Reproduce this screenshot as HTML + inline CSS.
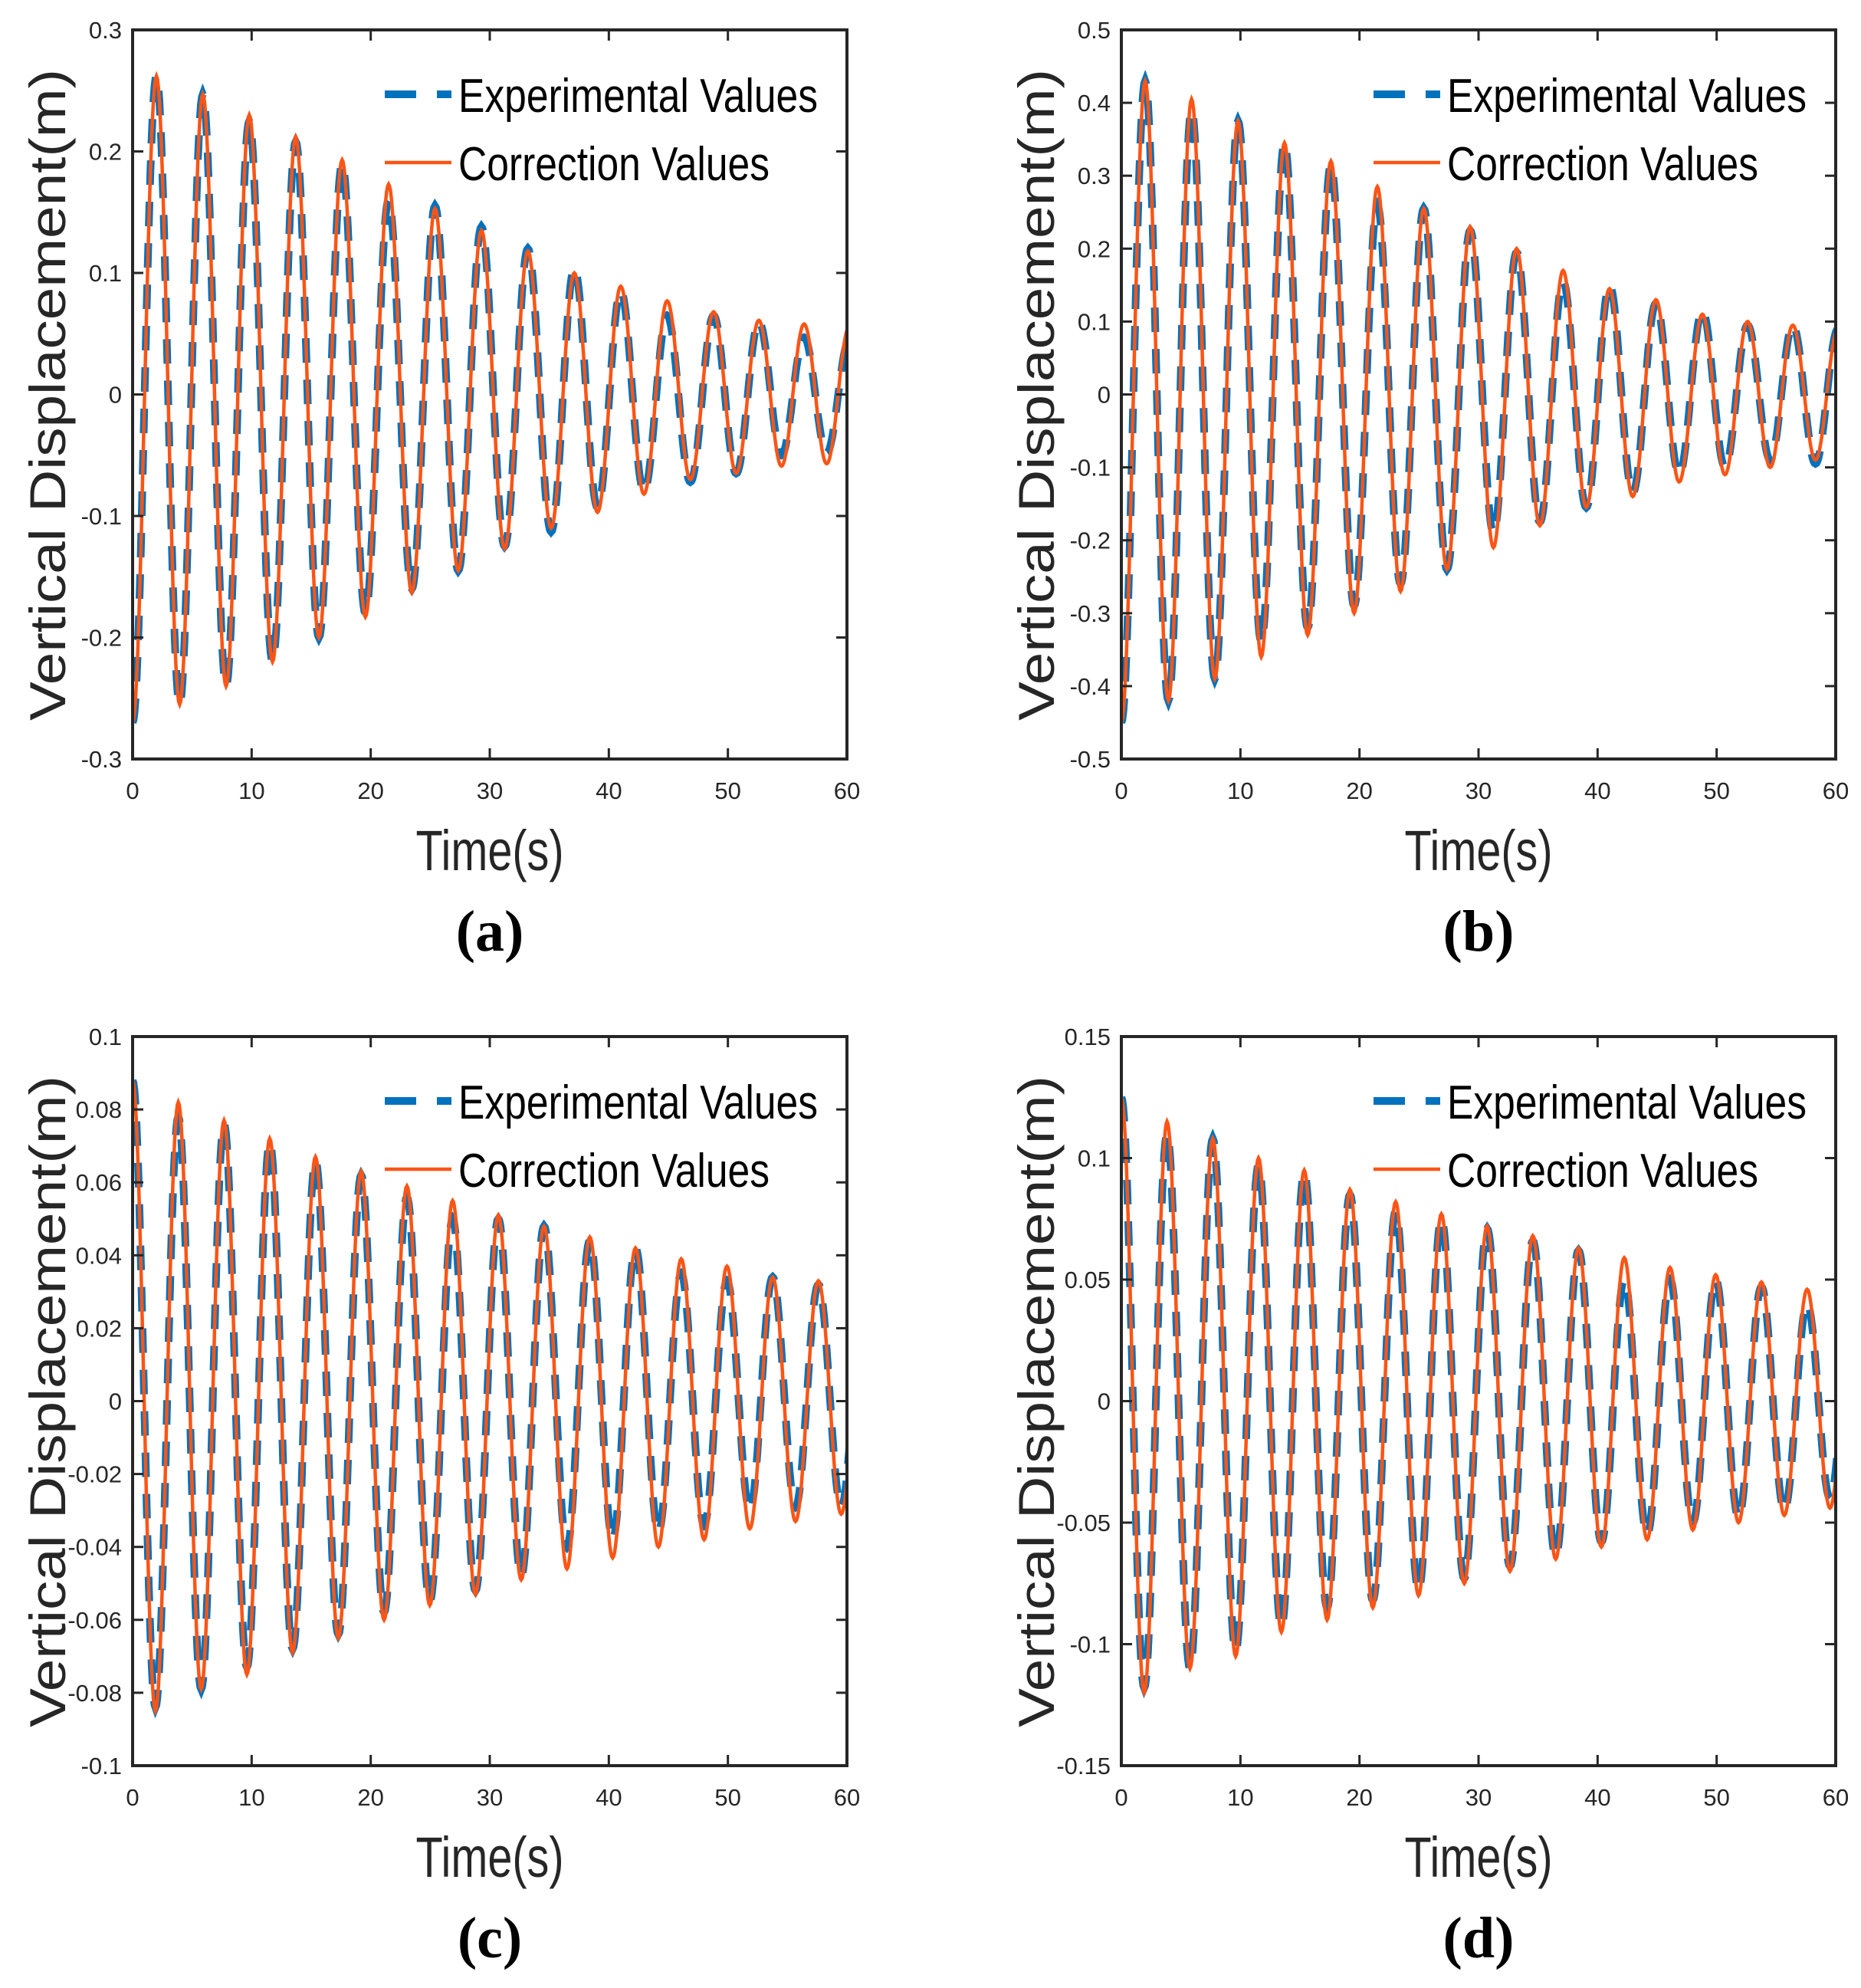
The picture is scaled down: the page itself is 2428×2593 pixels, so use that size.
<!DOCTYPE html>
<html><head><meta charset="utf-8"><style>
html,body{margin:0;padding:0;background:#fff;}
svg{display:block;}
text{font-family:"Liberation Sans",sans-serif;fill:#262626;}
</style></head><body>
<svg id="fig" width="2428" height="2593" viewBox="0 0 2428 2593" xmlns="http://www.w3.org/2000/svg"></svg>
<script>
// ---------- data ----------
const xTicks = [0,10,20,30,40,50,60];
const yTicksA = [-0.3,-0.2,-0.1,0,0.1,0.2,0.3];
const yTicksB = [-0.5,-0.4,-0.3,-0.2,-0.1,0,0.1,0.2,0.3,0.4,0.5];
const yTicksC = [-0.1,-0.08,-0.06,-0.04,-0.02,0,0.02,0.04,0.06,0.08,0.1];
const yTicksD = [-0.15,-0.1,-0.05,0,0.05,0.1,0.15];
const yLabelsA = ["-0.3","-0.2","-0.1","0","0.1","0.2","0.3"];
const yLabelsB = ["-0.5","-0.4","-0.3","-0.2","-0.1","0","0.1","0.2","0.3","0.4","0.5"];
const yLabelsC = ["-0.1","-0.08","-0.06","-0.04","-0.02","0","0.02","0.04","0.06","0.08","0.1"];
const yLabelsD = ["-0.15","-0.1","-0.05","0","0.05","0.1","0.15"];

const timesAB = [0,2.0,3.95,5.9,7.85,9.8,11.75,13.7,15.65,17.6,19.55,21.5,23.45,25.4,27.35,29.3,31.25,33.2,35.15,37.1,39.05,41.0,42.95,44.9,46.85,48.8,50.7,52.6,54.5,56.4,58.3,60.2];
const corrA = [-0.27,0.262,-0.255,0.247,-0.24,0.23,-0.22,0.212,-0.2,0.193,-0.183,0.173,-0.163,0.153,-0.145,0.135,-0.127,0.118,-0.11,0.1,-0.097,0.089,-0.082,0.077,-0.07,0.068,-0.065,0.061,-0.059,0.058,-0.057,0.056];
const expA  = [-0.27,0.262,-0.255,0.247,-0.24,0.225,-0.22,0.208,-0.2,0.19,-0.18,0.16,-0.16,0.155,-0.145,0.138,-0.125,0.12,-0.113,0.104,-0.093,0.085,-0.08,0.065,-0.072,0.065,-0.065,0.06,-0.05,0.047,-0.048,0.045];
const corrB = [-0.45,0.43,-0.42,0.405,-0.39,0.375,-0.36,0.345,-0.33,0.32,-0.3,0.285,-0.27,0.255,-0.24,0.23,-0.21,0.2,-0.18,0.17,-0.155,0.145,-0.14,0.13,-0.12,0.11,-0.11,0.1,-0.1,0.095,-0.09,0.09];
const expB  = [-0.45,0.43,-0.42,0.39,-0.39,0.375,-0.34,0.345,-0.32,0.315,-0.29,0.26,-0.26,0.255,-0.24,0.225,-0.19,0.195,-0.175,0.155,-0.155,0.15,-0.135,0.125,-0.11,0.115,-0.1,0.095,-0.09,0.095,-0.095,0.09];

const timesCD = [0,1.92,3.84,5.76,7.68,9.6,11.52,13.44,15.36,17.28,19.2,21.12,23.04,24.96,26.88,28.8,30.72,32.64,34.56,36.48,38.4,40.32,42.24,44.16,46.08,48.0,49.92,51.84,53.76,55.68,57.6,59.52,61.44];
const corrC = [0.088,-0.085,0.082,-0.079,0.077,-0.075,0.072,-0.069,0.067,-0.065,0.063,-0.06,0.059,-0.056,0.055,-0.053,0.051,-0.049,0.048,-0.046,0.045,-0.043,0.042,-0.04,0.039,-0.038,0.037,-0.035,0.034,-0.033,0.033,-0.031,0.031];
const expC  = [0.088,-0.084,0.078,-0.079,0.076,-0.073,0.071,-0.068,0.066,-0.064,0.062,-0.058,0.056,-0.055,0.05,-0.052,0.05,-0.048,0.048,-0.04,0.044,-0.038,0.042,-0.036,0.035,-0.034,0.033,-0.03,0.034,-0.029,0.032,-0.029,0.03];
const corrD = [0.125,-0.12,0.115,-0.11,0.108,-0.105,0.1,-0.095,0.095,-0.09,0.087,-0.085,0.082,-0.08,0.077,-0.075,0.072,-0.07,0.068,-0.065,0.063,-0.06,0.059,-0.057,0.055,-0.053,0.052,-0.05,0.049,-0.047,0.046,-0.044,0.043];
const expD  = [0.125,-0.118,0.11,-0.11,0.108,-0.103,0.097,-0.093,0.094,-0.085,0.085,-0.082,0.078,-0.078,0.075,-0.073,0.071,-0.068,0.066,-0.064,0.062,-0.058,0.05,-0.055,0.05,-0.05,0.05,-0.048,0.047,-0.045,0.04,-0.04,0.04];

// ---------- drawing ----------
const NS = "http://www.w3.org/2000/svg";
const svg = document.getElementById("fig");
function mk(tag, attrs, parent){
  const e = document.createElementNS(NS, tag);
  for (const k in attrs) e.setAttribute(k, attrs[k]);
  (parent||svg).appendChild(e);
  return e;
}

function panel(id, L, T, yTicks, yLabels, times, corr, exp, letter){
  const W = 932, H = 951, R = L+W, B = T+H;
  const yMin = yTicks[0], yMax = yTicks[yTicks.length-1];
  const xS = t => L + (t/60)*W;
  const yS = v => B - (v - yMin)/(yMax - yMin)*H;

  const g = mk("g", {});
  
  

  const clip = mk("clipPath", {id:"clip"+id}, g);
  mk("rect", {x:L, y:T, width:W, height:H}, clip);

  function pathFor(vals){
    let d = "";
    for (let i=0;i<times.length-1;i++){
      const t0=times[i], t1=times[i+1], v0=vals[i], v1=vals[i+1];
      for (let s=0;s<=24;s++){
        if (i>0 && s===0) continue;
        const f=s/24;
        const t=t0+(t1-t0)*f;
        const v=(v0+v1)/2+(v0-v1)/2*Math.cos(Math.PI*f);
        d += (d?"L":"M") + xS(t).toFixed(1) + "," + yS(v).toFixed(1);
      }
    }
    return d;
  }
  const pe = mk("path", {d:pathFor(exp), fill:"none", stroke:"#0072BD", "stroke-width":10, "stroke-dasharray":"32,22", "clip-path":"url(#clip"+id+")"}, g);
  
  
  const pc = mk("path", {d:pathFor(corr), fill:"none", stroke:"#FA5516", "stroke-width":4.5, "clip-path":"url(#clip"+id+")"}, g);
  
  

  const box = mk("rect", {x:L, y:T, width:W, height:H, fill:"none", stroke:"#262626", "stroke-width":4}, g);
  
  

  xTicks.forEach(t=>{
    const x = xS(t);
    mk("line", {x1:x, y1:B, x2:x, y2:B-14, stroke:"#262626","stroke-width":3}, g);
    mk("line", {x1:x, y1:T, x2:x, y2:T+14, stroke:"#262626","stroke-width":3}, g);
    const tx = mk("text", {x:x, y:B+52, "font-size":31, "text-anchor":"middle"}, g);
    tx.textContent = String(t);
    
    
  });
  yTicks.forEach((v,i)=>{
    const y = yS(v);
    mk("line", {x1:L, y1:y, x2:L+14, y2:y, stroke:"#262626","stroke-width":3}, g);
    mk("line", {x1:R, y1:y, x2:R-14, y2:y, stroke:"#262626","stroke-width":3}, g);
    const ty = mk("text", {x:L-14, y:y+11, "font-size":31, "text-anchor":"end"}, g);
    ty.textContent = yLabels[i];
    
    
  });

  const yt = mk("text", {x:0, y:0, "font-size":66, "text-anchor":"middle", textLength:850, lengthAdjust:"spacingAndGlyphs",
    transform:"translate("+(L-88)+","+(T+476)+") rotate(-90)"}, g);
  yt.textContent = "Vertical Displacement(m)";
  
  

  const xt = mk("text", {x:L+W/2, y:T+1096, "font-size":74, "text-anchor":"middle", textLength:193, lengthAdjust:"spacingAndGlyphs"}, g);
  xt.textContent = "Time(s)";
  
  

  const lt = mk("text", {x:L+W/2, y:T+1201, "font-size":76, "text-anchor":"middle", style:"font-family:'Liberation Serif',serif;font-weight:bold;fill:#000"}, g);
  lt.textContent = "(" + letter + ")";
  
  

  const lg = mk("g", {}, g);
  
  
  mk("line", {x1:L+329, y1:T+84, x2:L+416, y2:T+84, stroke:"#0072BD","stroke-width":10,"stroke-dasharray":"41,27"}, lg);
  const l1 = mk("text", {x:L+425, y:T+107, "font-size":62, textLength:469, lengthAdjust:"spacingAndGlyphs", style:"fill:#000"}, lg);
  l1.textContent = "Experimental Values";
  
  
  mk("line", {x1:L+329, y1:T+173, x2:L+416, y2:T+173, stroke:"#FA5516","stroke-width":4.5}, lg);
  const l2 = mk("text", {x:L+425, y:T+196, "font-size":62, textLength:406, lengthAdjust:"spacingAndGlyphs", style:"fill:#000"}, lg);
  l2.textContent = "Correction Values";
  
  
}

panel("a", 173, 39, yTicksA, yLabelsA, timesAB, corrA, expA, "a");
panel("b", 1463, 39, yTicksB, yLabelsB, timesAB, corrB, expB, "b");
panel("c", 173, 1352, yTicksC, yLabelsC, timesCD, corrC, expC, "c");
panel("d", 1463, 1352, yTicksD, yLabelsD, timesCD, corrD, expD, "d");
</script>
</body></html>
